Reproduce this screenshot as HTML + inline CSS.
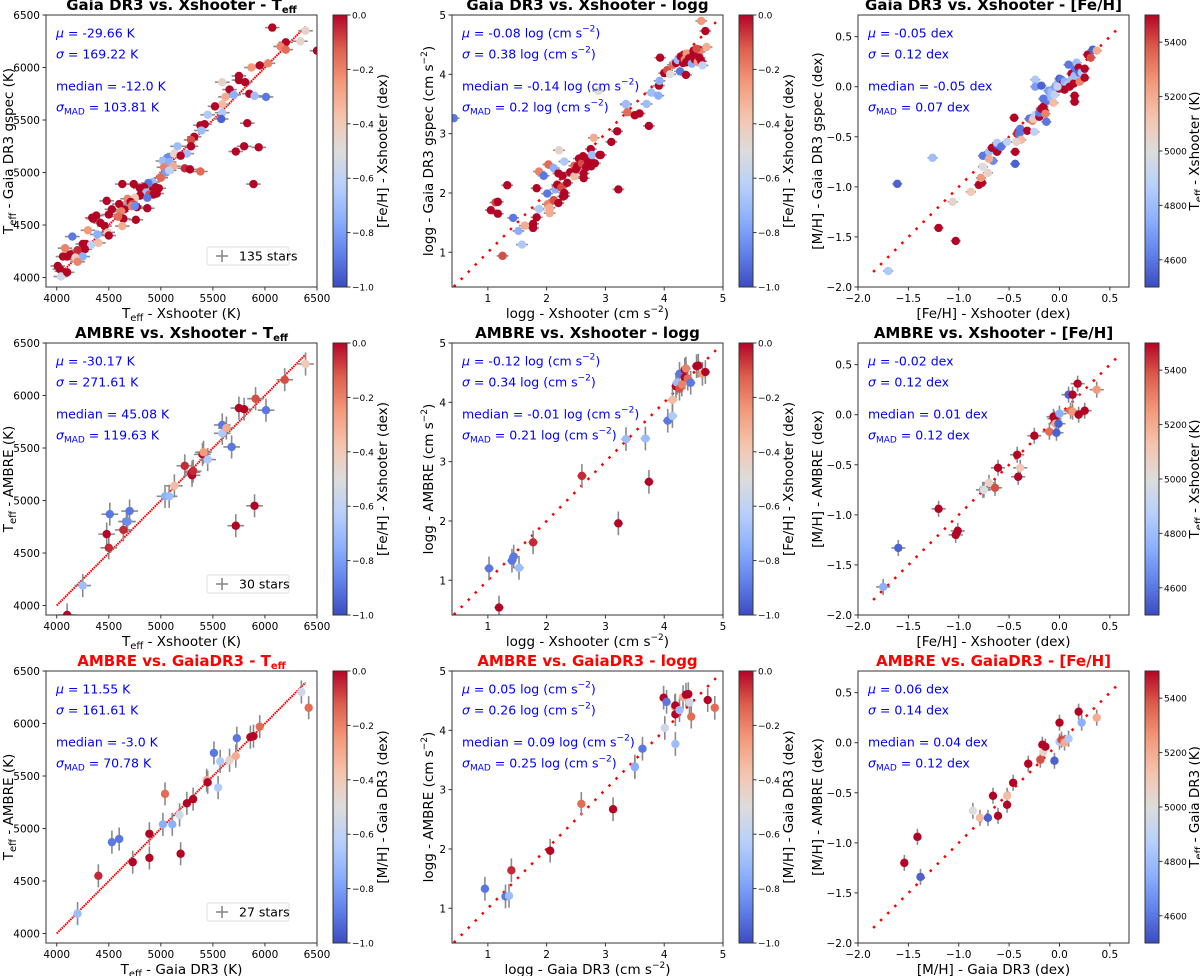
<!DOCTYPE html>
<html><head><meta charset="utf-8"><style>
html,body{margin:0;padding:0;background:#fff;}
svg{display:block;font-family:"DejaVu Sans","Liberation Sans",sans-serif;}
</style></head><body>
<svg id="fig" width="1200" height="976" viewBox="0 0 1200 976" xmlns="http://www.w3.org/2000/svg">
<defs>
<linearGradient id="cw" x1="0" y1="1" x2="0" y2="0">
<stop offset="0" stop-color="rgb(59,76,192)"/><stop offset="0.125" stop-color="rgb(98,130,234)"/>
<stop offset="0.25" stop-color="rgb(141,176,254)"/><stop offset="0.375" stop-color="rgb(184,208,249)"/>
<stop offset="0.5" stop-color="rgb(221,220,220)"/><stop offset="0.625" stop-color="rgb(245,196,173)"/>
<stop offset="0.75" stop-color="rgb(244,154,123)"/><stop offset="0.875" stop-color="rgb(222,96,77)"/>
<stop offset="1" stop-color="rgb(180,4,38)"/>
</linearGradient>
</defs>
</svg>
<script>
// ---- data: [x, y, colour-value] per star ----
const p1 = [[6070,6380,0],[6390,6350,-0.45],[6340,6250,-0.45],[6200,6240,0],[6150,6200,-0.2],[6200,6170,-0.15],[6500,6160,0],[6030,6040,-0.2],[5950,6020,0],[5870,6000,-0.25],[5750,5920,0],[5750,5880,0],[5810,5860,0],[5590,5860,-0.45],[5660,5790,0],[5850,5750,0],[5700,5740,-0.75],[5900,5730,-0.7],[6010,5720,-0.9],[5620,5720,-0.3],[5590,5650,-0.35],[5520,5630,0],[5590,5570,-0.65],[5450,5550,-0.65],[5580,5510,-0.95],[5420,5460,0],[5380,5450,0],[5830,5470,0],[5390,5400,-0.7],[5320,5340,0],[5290,5310,-0.1],[5160,5250,-0.7],[5290,5250,0],[5800,5250,0],[5940,5240,0],[5720,5200,0],[5130,5180,-0.45],[5250,5180,-0.7],[5190,5160,0],[5060,5140,-0.85],[5020,5110,-0.7],[5080,5100,-0.75],[5120,5060,-0.3],[5030,5050,-0.2],[5230,5040,-0.05],[5280,5030,0],[5380,5010,-0.15],[5050,5000,-0.8],[5080,5020,-0.6],[5000,4950,-0.15],[4920,4910,-0.7],[4880,4900,-0.9],[4630,4890,0],[4740,4890,0],[5890,4890,0],[4950,4860,0],[4980,4850,0],[4840,4860,0],[4800,4850,0],[4920,4830,0],[4960,4800,0],[4860,4810,-0.7],[4890,4790,-0.1],[4800,4780,0],[4930,4790,0],[4680,4750,-0.2],[4750,4760,-0.4],[4870,4760,-0.9],[4710,4720,0],[4730,4700,-0.1],[4480,4730,0],[4600,4700,0],[4720,4680,-0.2],[4770,4670,0],[4870,4660,0],[4530,4650,0],[4650,4650,0],[4750,4680,-0.85],[4500,4600,0],[4620,4630,-0.2],[4380,4590,0],[4340,4570,0],[4350,4560,0],[4640,4560,0],[4590,4580,-0.15],[4760,4550,0],[4420,4520,0],[4460,4490,0],[4630,4490,-0.3],[4300,4450,-0.25],[4490,4430,-0.4],[4390,4410,-0.75],[4500,4400,0],[4150,4390,-0.9],[4280,4320,0],[4250,4320,0],[4400,4330,-0.35],[4330,4310,-0.6],[4270,4270,0],[4080,4280,-0.2],[4200,4260,-0.05],[4060,4200,0],[4100,4200,0],[4130,4220,0],[4180,4190,-0.45],[4250,4200,-0.75],[4190,4170,-0.4],[4200,4150,-0.2],[4010,4110,0],[4030,4080,0],[4090,4050,-0.2],[4050,4060,0],[4040,4010,-0.55],[4100,4050,0]];
const p2 = [[0.42,3.26,-0.9],[1.05,1.71,0],[1.13,1.84,-0.1],[1.17,1.85,0],[1.17,1.65,0],[1.33,2.13,0],[1.25,0.94,-0.1],[1.43,1.58,-0.9],[1.52,1.36,-0.75],[1.58,1.13,-0.65],[1.63,1.45,-0.3],[1.77,1.48,0],[1.77,1.41,0],[1.83,1.59,0],[1.83,2.08,0],[1.87,1.73,-0.65],[1.87,2.36,-0.2],[1.95,2.29,-0.9],[2.01,1.99,-0.9],[2.02,1.81,-0.2],[2.02,1.72,-0.45],[2.03,2.48,-0.15],[2.05,1.66,-0.3],[2.05,1.75,-0.3],[2.12,1.88,-0.1],[2.12,2.42,-0.75],[2.15,2.06,-0.75],[2.18,2.14,0],[2.2,2.33,0],[2.2,1.83,0],[2.21,2.72,-0.45],[2.25,2.09,-0.1],[2.27,2.29,0],[2.28,1.94,0],[2.3,1.95,0],[2.3,2.53,-0.65],[2.3,2.0,0],[2.35,2.17,0],[2.4,2.35,0],[2.47,2.46,-0.15],[2.47,2.28,-0.35],[2.5,2.4,0],[2.52,2.45,0],[2.55,2.58,0],[2.6,2.5,-0.1],[2.62,2.62,0],[2.63,2.33,0],[2.63,2.25,0],[2.67,2.43,0],[2.7,2.54,0],[2.72,2.58,0],[2.75,2.74,0],[2.76,2.45,0],[2.77,2.64,-0.7],[2.8,2.93,-0.3],[2.82,2.5,0],[2.9,2.64,0],[2.92,2.64,0],[2.88,3.72,-0.5],[3.1,2.86,0],[3.2,3.04,0],[3.22,2.06,0],[3.35,3.49,-0.75],[3.35,3.5,-0.7],[3.37,3.36,-0.15],[3.5,3.31,0],[3.58,3.34,0],[3.7,3.5,-0.7],[3.74,3.13,0],[3.78,3.69,-0.7],[3.9,3.64,-0.75],[3.91,3.81,0],[3.92,3.89,-0.75],[3.93,4.28,0],[4.0,4.02,0],[4.03,4.03,0],[4.05,4.07,-0.1],[4.1,4.0,-0.5],[4.15,4.16,-0.15],[4.18,4.2,-0.7],[4.2,4.19,0],[4.23,4.24,-0.7],[4.27,4.05,-0.9],[4.28,4.3,0],[4.32,4.19,0],[4.33,4.33,0],[4.35,4.25,-0.2],[4.37,4.2,0],[4.37,3.99,0],[4.38,4.35,-0.25],[4.42,4.27,0],[4.47,4.18,-0.75],[4.5,4.4,0],[4.52,4.25,0],[4.55,4.32,0],[4.57,4.21,-0.25],[4.58,4.42,0],[4.6,4.38,-0.2],[4.6,4.28,0],[4.63,4.22,0],[4.65,4.15,-0.6],[4.7,4.73,0],[4.72,4.46,-0.3],[4.63,4.9,-0.25],[4.5,4.35,0],[4.55,4.43,-0.1]];
const p3 = [[-1.7,-1.84,4850],[-1.61,-0.97,4550],[-1.26,-0.71,4800],[-1.2,-1.41,5500],[-1.03,-1.54,5500],[-1.06,-1.15,5050],[-0.88,-1.05,5100],[-0.8,-0.98,5500],[-0.77,-0.96,5500],[-0.78,-0.91,5250],[-0.76,-0.8,5000],[-0.71,-0.86,5050],[-0.76,-0.69,4600],[-0.7,-0.65,4800],[-0.66,-0.74,4650],[-0.7,-0.72,5200],[-0.67,-0.61,5500],[-0.62,-0.65,5500],[-0.62,-0.58,4550],[-0.62,-0.56,4850],[-0.58,-0.6,4600],[-0.52,-0.55,4900],[-0.45,-0.31,5500],[-0.44,-0.65,5500],[-0.44,-0.77,4550],[-0.42,-0.47,5450],[-0.4,-0.47,4600],[-0.39,-0.42,4600],[-0.38,-0.53,5150],[-0.43,-0.55,5050],[-0.32,-0.44,5500],[-0.3,-0.32,4600],[-0.27,-0.34,5300],[-0.26,-0.32,5100],[-0.25,-0.45,4900],[-0.24,-0.28,4900],[-0.24,0.07,4850],[-0.24,0.0,4700],[-0.18,0.01,4550],[-0.2,-0.3,5500],[-0.2,-0.26,4600],[-0.18,-0.22,5500],[-0.15,-0.24,5500],[-0.16,-0.2,5500],[-0.14,-0.27,5300],[-0.13,-0.35,4600],[-0.12,-0.14,4600],[-0.1,-0.1,4800],[-0.11,-0.04,4700],[-0.08,-0.05,4800],[-0.06,-0.16,5150],[-0.05,-0.08,4900],[-0.04,0.0,4700],[-0.02,0.03,4800],[0.0,0.08,4550],[0.0,-0.02,5500],[0.02,0.07,4600],[0.03,0.03,5500],[0.05,0.05,4750],[0.07,0.0,5200],[0.08,0.02,4850],[0.09,0.22,4600],[0.1,0.0,5500],[0.12,0.13,5500],[0.12,0.07,4800],[0.14,0.05,5200],[0.14,0.03,5500],[0.15,0.11,4800],[0.15,-0.09,5500],[0.15,-0.15,5500],[0.16,0.18,4600],[0.17,0.24,4800],[0.19,0.19,5500],[0.2,0.14,4550],[0.2,0.05,5300],[0.22,0.14,4850],[0.25,0.18,5500],[0.25,0.09,5500],[0.28,0.32,5500],[0.31,0.29,5400],[0.33,0.37,4550],[0.37,0.36,5200],[0.05,-0.03,5500],[-0.02,0.0,4900],[-0.16,-0.12,4600]];
const p4 = [[4100,3910,0],[4250,4190,-0.7],[4480,4680,0],[4500,4550,-0.05],[4510,4870,-0.9],[4640,4720,-0.05],[4670,4800,-0.9],[4680,4800,-0.85],[4700,4900,-0.9],[5040,5040,-0.75],[5080,5040,-0.7],[5130,5140,-0.35],[5230,5330,-0.05],[5300,5240,0],[5300,5270,0],[5310,5280,-0.05],[5400,5440,0],[5410,5460,-0.25],[5450,5390,-0.65],[5590,5720,-0.9],[5590,5640,-0.65],[5630,5690,-0.3],[5680,5510,-0.9],[5720,4760,0],[5750,5880,0],[5800,5870,0],[5900,4950,0],[5910,5970,-0.1],[6010,5860,-0.9],[6190,6150,-0.1],[6390,6300,-0.4]];
const p5 = [[1.02,1.2,-0.9],[1.19,0.54,0],[1.41,1.33,-0.9],[1.44,1.4,-0.9],[1.53,1.21,-0.7],[1.77,1.64,-0.05],[2.6,2.76,-0.05],[3.22,1.96,0],[3.35,3.38,-0.7],[3.68,3.39,-0.7],[3.74,2.66,0],[4.06,3.69,-0.9],[4.14,3.77,-0.65],[4.14,4.04,-0.35],[4.2,4.27,0],[4.22,4.33,-0.7],[4.26,4.23,-0.1],[4.26,4.48,-0.9],[4.35,4.55,0],[4.35,4.42,0],[4.4,4.4,-0.15],[4.45,4.33,-0.9],[4.55,4.61,0],[4.58,4.62,0],[4.65,4.48,-0.25],[4.7,4.51,0],[4.37,4.57,-0.2],[4.3,4.3,-0.2]];
const p6 = [[-1.75,-1.72,4750],[-1.6,-1.33,4550],[-1.2,-0.94,5500],[-1.03,-1.2,5500],[-1.01,-1.16,5500],[-0.76,-0.75,4700],[-0.75,-0.75,5000],[-0.7,-0.68,5050],[-0.64,-0.73,5400],[-0.61,-0.53,5500],[-0.42,-0.4,5500],[-0.41,-0.62,5500],[-0.39,-0.53,5100],[-0.25,-0.21,5500],[-0.1,-0.17,5350],[-0.06,-0.02,5500],[-0.05,-0.04,5500],[-0.04,-0.09,5200],[-0.03,-0.18,4550],[-0.01,-0.09,4550],[0.0,0.01,4750],[0.09,0.2,4550],[0.11,0.04,5350],[0.13,0.03,5250],[0.13,0.2,5500],[0.18,0.31,5500],[0.19,0.0,5500],[0.25,0.04,5500],[0.37,0.25,5250]];
const p7 = [[4200,4190,-0.7],[4400,4550,-0.05],[4530,4870,-0.9],[4600,4900,-0.9],[4730,4680,0],[4890,4950,0],[4890,4720,0],[5020,5040,-0.75],[5040,5330,-0.15],[5110,5040,-0.75],[5180,5130,-0.55],[5190,4760,0],[5250,5240,0],[5310,5280,0],[5440,5460,-0.3],[5450,5440,0],[5510,5720,-0.9],[5550,5390,-0.65],[5570,5640,-0.65],[5660,5650,-0.45],[5720,5690,-0.3],[5730,5860,-0.9],[5860,5870,0],[5890,5880,0],[5950,5970,-0.15],[6350,6300,-0.55],[6420,6150,-0.15]];
const p8 = [[0.95,1.33,-0.9],[1.3,1.2,-0.9],[1.36,1.21,-0.7],[1.4,1.64,-0.05],[2.06,1.97,0],[2.59,2.76,-0.15],[3.13,2.67,0],[3.5,3.39,-0.8],[3.5,3.38,-0.75],[3.63,3.69,-0.9],[3.99,4.55,0],[4.01,4.04,-0.55],[4.04,4.48,-0.9],[4.18,4.4,-0.25],[4.19,4.42,0],[4.19,4.27,0],[4.19,3.77,-0.7],[4.26,4.34,-0.7],[4.32,4.56,-0.3],[4.37,4.6,0],[4.41,4.61,0],[4.43,4.47,-0.55],[4.46,4.23,-0.15],[4.74,4.51,0],[4.86,4.38,-0.15]];
const p9 = [[-1.54,-1.2,5500],[-1.41,-0.94,5500],[-1.38,-1.34,4550],[-0.86,-0.68,5000],[-0.79,-0.75,5150],[-0.71,-0.75,4550],[-0.66,-0.53,5500],[-0.61,-0.73,5500],[-0.52,-0.53,5150],[-0.52,-0.62,5500],[-0.46,-0.4,5500],[-0.31,-0.21,5500],[-0.19,-0.17,5400],[-0.17,-0.02,5500],[-0.16,-0.09,5050],[-0.14,-0.04,5500],[-0.05,-0.18,4550],[0.0,0.2,5500],[0.0,0.01,4850],[0.02,0.03,5400],[0.05,0.0,5200],[0.09,0.04,4850],[0.19,0.31,5500],[0.22,0.2,4750],[0.37,0.25,5200]];
const teffTicks = [4000,4500,5000,5500,6000,6500];
const loggTicks = [1,2,3,4,5];
const fehTicksX = [-2.0,-1.5,-1.0,-0.5,0.0,0.5];
const fehTicksY = [-2.0,-1.5,-1.0,-0.5,0.0,0.5];
const cbFeTicks = [0,-0.2,-0.4,-0.6,-0.8,-1.0];
const cbTeffTicks = [4600,4800,5000,5200,5400];

const NS="http://www.w3.org/2000/svg";
const svg=document.getElementById('fig');
function mk(tag,attrs,parent){const e=document.createElementNS(NS,tag);for(const k in attrs)e.setAttribute(k,attrs[k]);(parent||svg).appendChild(e);return e;}
const stops=[[59,76,192],[98,130,234],[141,176,254],[184,208,249],[221,220,220],[245,196,173],[244,154,123],[222,96,77],[180,4,38]];
function cw(t){t=Math.max(0,Math.min(1,t));const f=t*8,i=Math.min(7,Math.floor(f)),u=f-i;const a=stops[i],b=stops[i+1];return 'rgb('+a.map((v,k)=>Math.round(v+(b[k]-v)*u)).join(',')+')';}

const colL=[46,452,858], rowT=[15,343,671], W=271, H=272, cbL=[333,739,1145];
const T='T<tspan baseline-shift="-3" font-size="10">eff</tspan>';
const S2='<tspan baseline-shift="6" font-size="9">−2</tspan>)';
const MAD='σ<tspan baseline-shift="-3" font-size="9">MAD</tspan>';
const kinds={
 teff:{xd:[3897,6500],yd:[3910,6500],xt:teffTicks,yt:teffTicks,fmt:v=>String(v),line:[4000,6390],dash:'1.6 0.8',lw:2,xe:70,ye:25,cb:'fe'},
 logg:{xd:[0.39,5],yd:[0.415,5],xt:loggTicks,yt:loggTicks,fmt:v=>String(v),line:[0.42,4.92],dash:'2.5 7.5',lw:2.5,xe:0.1,ye:0.03,cb:'fe'},
 feh:{xd:[-2.0,0.69],yd:[-2.0,0.716],xt:fehTicksX,yt:fehTicksY,fmt:v=>(v<0?'−':'')+Math.abs(v).toFixed(1),line:[-1.85,0.58],dash:'2.5 7.5',lw:2.5,xe:0.05,ye:0.03,cb:'te'}
};
const panels=[
 {d:p1,k:'teff',r:0,c:0,title:'Gaia DR3 vs. Xshooter - '+T,red:false,xl:T+' - Xshooter (K)',yl:T+' - Gaia DR3 gspec (K)',cbl:'[Fe/H] - Xshooter (dex)',st:['μ = -29.66 K','σ = 169.22 K','median = -12.0 K',MAD+' = 103.81 K'],leg:'135 stars'},
 {d:p2,k:'logg',r:0,c:1,title:'Gaia DR3 vs. Xshooter - logg',red:false,xl:'logg - Xshooter (cm s'+S2,yl:'logg - Gaia DR3 gspec (cm s'+S2,cbl:'[Fe/H] - Xshooter (dex)',st:['μ = -0.08 log (cm s'+S2,'σ = 0.38 log (cm s'+S2,'median = -0.14 log (cm s'+S2,MAD+' = 0.2 log (cm s'+S2]},
 {d:p3,k:'feh',r:0,c:2,title:'Gaia DR3 vs. Xshooter - [Fe/H]',red:false,xl:'[Fe/H] - Xshooter (dex)',yl:'[M/H] - Gaia DR3 gspec (dex)',cbl:T+' - Xshooter (K)',st:['μ = -0.05 dex','σ = 0.12 dex','median = -0.05 dex',MAD+' = 0.07 dex']},
 {d:p4,k:'teff',r:1,c:0,title:'AMBRE vs. Xshooter - '+T,red:false,xl:T+' - Xshooter (K)',yl:T+' - AMBRE (K)',cbl:'[Fe/H] - Xshooter (dex)',st:['μ = -30.17 K','σ = 271.61 K','median = 45.08 K',MAD+' = 119.63 K'],leg:'30 stars',xe:80,ye:110},
 {d:p5,k:'logg',r:1,c:1,title:'AMBRE vs. Xshooter - logg',red:false,xl:'logg - Xshooter (cm s'+S2,yl:'logg - AMBRE (cm s'+S2,cbl:'[Fe/H] - Xshooter (dex)',st:['μ = -0.12 log (cm s'+S2,'σ = 0.34 log (cm s'+S2,'median = -0.01 log (cm s'+S2,MAD+' = 0.21 log (cm s'+S2],xe:0.08,ye:0.2},
 {d:p6,k:'feh',r:1,c:2,title:'AMBRE vs. Xshooter - [Fe/H]',red:false,xl:'[Fe/H] - Xshooter (dex)',yl:'[M/H] - AMBRE (dex)',cbl:T+' - Xshooter (K)',st:['μ = -0.02 dex','σ = 0.12 dex','median = 0.01 dex',MAD+' = 0.12 dex'],xe:0.07,ye:0.08},
 {d:p7,k:'teff',r:2,c:0,title:'AMBRE vs. GaiaDR3 - '+T,red:true,xl:T+' - Gaia DR3 (K)',yl:T+' - AMBRE (K)',cbl:'[M/H] - Gaia DR3 (dex)',st:['μ = 11.55 K','σ = 161.61 K','median = -3.0 K',MAD+' = 70.78 K'],leg:'27 stars',xe:30,ye:110},
 {d:p8,k:'logg',r:2,c:1,title:'AMBRE vs. GaiaDR3 - logg',red:true,xl:'logg - Gaia DR3 (cm s'+S2,yl:'logg - AMBRE (cm s'+S2,cbl:'[M/H] - Gaia DR3 (dex)',st:['μ = 0.05 log (cm s'+S2,'σ = 0.26 log (cm s'+S2,'median = 0.09 log (cm s'+S2,MAD+' = 0.25 log (cm s'+S2],xe:0.05,ye:0.2},
 {d:p9,k:'feh',r:2,c:2,title:'AMBRE vs. GaiaDR3 - [Fe/H]',red:true,xl:'[M/H] - Gaia DR3 (dex)',yl:'[M/H] - AMBRE (dex)',cbl:T+' - Gaia DR3 (K)',st:['μ = 0.06 dex','σ = 0.14 dex','median = 0.04 dex',MAD+' = 0.12 dex'],xe:0.03,ye:0.08}
];
const ylOff=[-33,-19,-36];
panels.forEach((p,idx)=>{
 const K=kinds[p.k],L=colL[p.c],Tp=rowT[p.r],R=L+W,B=Tp+H;
 const sx=v=>L+(v-K.xd[0])/(K.xd[1]-K.xd[0])*W;
 const sy=v=>B-(v-K.yd[0])/(K.yd[1]-K.yd[0])*H;
 const g=mk('g',{});
 
 
 const cp=mk('clipPath',{id:'cp'+idx},g);mk('rect',{x:L,y:Tp,width:W,height:H},cp);
 const tt=mk('text',{x:L+W/2,y:Tp-5,'text-anchor':'middle','font-size':'15','font-weight':'bold',fill:p.red?'#ff0000':'#000'},g);
 tt.innerHTML=p.title;
 
 
 const il=mk('line',{x1:sx(K.line[0]),y1:sy(K.line[0]),x2:sx(K.line[1]),y2:sy(K.line[1]),stroke:'#ff0000','stroke-width':K.lw,'stroke-dasharray':K.dash},g);
 
 
 const pg=mk('g',{'clip-path':'url(#cp'+idx+')'},g);
 const xe=p.xe!==undefined?p.xe:K.xe, ye=p.ye!==undefined?p.ye:K.ye;
 p.d.forEach(pt=>{
  const x=sx(pt[0]),y=sy(pt[1]);
  mk('line',{x1:sx(pt[0]-xe),x2:sx(pt[0]+xe),y1:y,y2:y,stroke:'#8a8a8a','stroke-width':1.6},pg);
  mk('line',{x1:x,x2:x,y1:sy(pt[1]-ye),y2:sy(pt[1]+ye),stroke:'#8a8a8a','stroke-width':1.6},pg);
 });
 p.d.forEach(pt=>{
  const t=K.cb==='fe'?(pt[2]+1):(pt[2]-4500)/1000;
  const c=mk('circle',{cx:sx(pt[0]),cy:sy(pt[1]),r:4.2,fill:cw(t)},pg);
  
  
 });
 const fr=mk('rect',{x:L,y:Tp,width:W,height:H,fill:'none',stroke:'#333','stroke-width':1},g);
 
 
 K.xt.forEach(v=>{const x=sx(v);if(x<L-0.5||x>R+0.5)return;
  mk('line',{x1:x,x2:x,y1:B,y2:B+3.5,stroke:'#333'},g);
  const t=mk('text',{x:x,y:B+15,'text-anchor':'middle','font-size':'10.5'},g);t.textContent=K.fmt(v);
  
  });
 K.yt.forEach(v=>{const y=sy(v);if(y<Tp-0.5||y>B+0.5)return;
  mk('line',{x1:L-3.5,x2:L,y1:y,y2:y,stroke:'#333'},g);
  const t=mk('text',{x:L-6,y:y+4,'text-anchor':'end','font-size':'10.5'},g);t.textContent=K.fmt(v);
  
  });
 const xl=mk('text',{x:L+W/2,y:B+31,'text-anchor':'middle','font-size':'13.5'},g);xl.innerHTML=p.xl;
 
 
 const yx=L+ylOff[p.c],yy=Tp+H/2;
 const yl=mk('text',{x:yx,y:yy,'text-anchor':'middle','font-size':'13.5',transform:'rotate(-90 '+yx+' '+yy+')'},g);yl.innerHTML=p.yl;
 
 
 const sty=[18,39,71,92];
 p.st.forEach((s,i)=>{const t=mk('text',{x:L+10,y:Tp+sty[i]+4.5,'font-size':'12.5',fill:'#0000ff'},g);t.innerHTML=s.replace(/^μ/,'<tspan font-style="italic">μ</tspan>').replace(/^σ/,'<tspan font-style="italic">σ</tspan>');
  
  });
 if(p.leg){const lx=L+161,ly=B-40;
  const lg=mk('g',{},g);
  
  
  mk('rect',{x:lx,y:ly,width:82,height:18,fill:'#fff',stroke:'#ddd',rx:2},lg);
  mk('line',{x1:lx+9,x2:lx+21,y1:ly+9,y2:ly+9,stroke:'#8a8a8a','stroke-width':1.6},lg);
  mk('line',{x1:lx+15,x2:lx+15,y1:ly+3,y2:ly+15,stroke:'#8a8a8a','stroke-width':1.6},lg);
  const t=mk('text',{x:lx+32,y:ly+13.5,'font-size':'12.5'},lg);t.textContent=p.leg;}
 const cl=cbL[p.c],cb=mk('g',{},g);
 
 
 mk('rect',{x:cl,y:Tp,width:14,height:H,fill:'url(#cw)',stroke:'#333','stroke-width':1},cb);
 const ticks=K.cb==='fe'?cbFeTicks:cbTeffTicks;
 ticks.forEach(v=>{const t=K.cb==='fe'?(v+1):(v-4500)/1000;const y=B-t*H;
  mk('line',{x1:cl+14,x2:cl+17.5,y1:y,y2:y,stroke:'#333'},cb);
  const tx=mk('text',{x:cl+19,y:y+3.5,'font-size':'9'},cb);
  tx.textContent=K.cb==='fe'?(v<0?'−':'')+Math.abs(v).toFixed(1):String(v);});
 const cx=cl+54,cy=Tp+H/2;
 const ct=mk('text',{x:cx,y:cy,'text-anchor':'middle','font-size':'13.5',transform:'rotate(-90 '+cx+' '+cy+')'},cb);ct.innerHTML=p.cbl;
});
</script>
</body></html>
